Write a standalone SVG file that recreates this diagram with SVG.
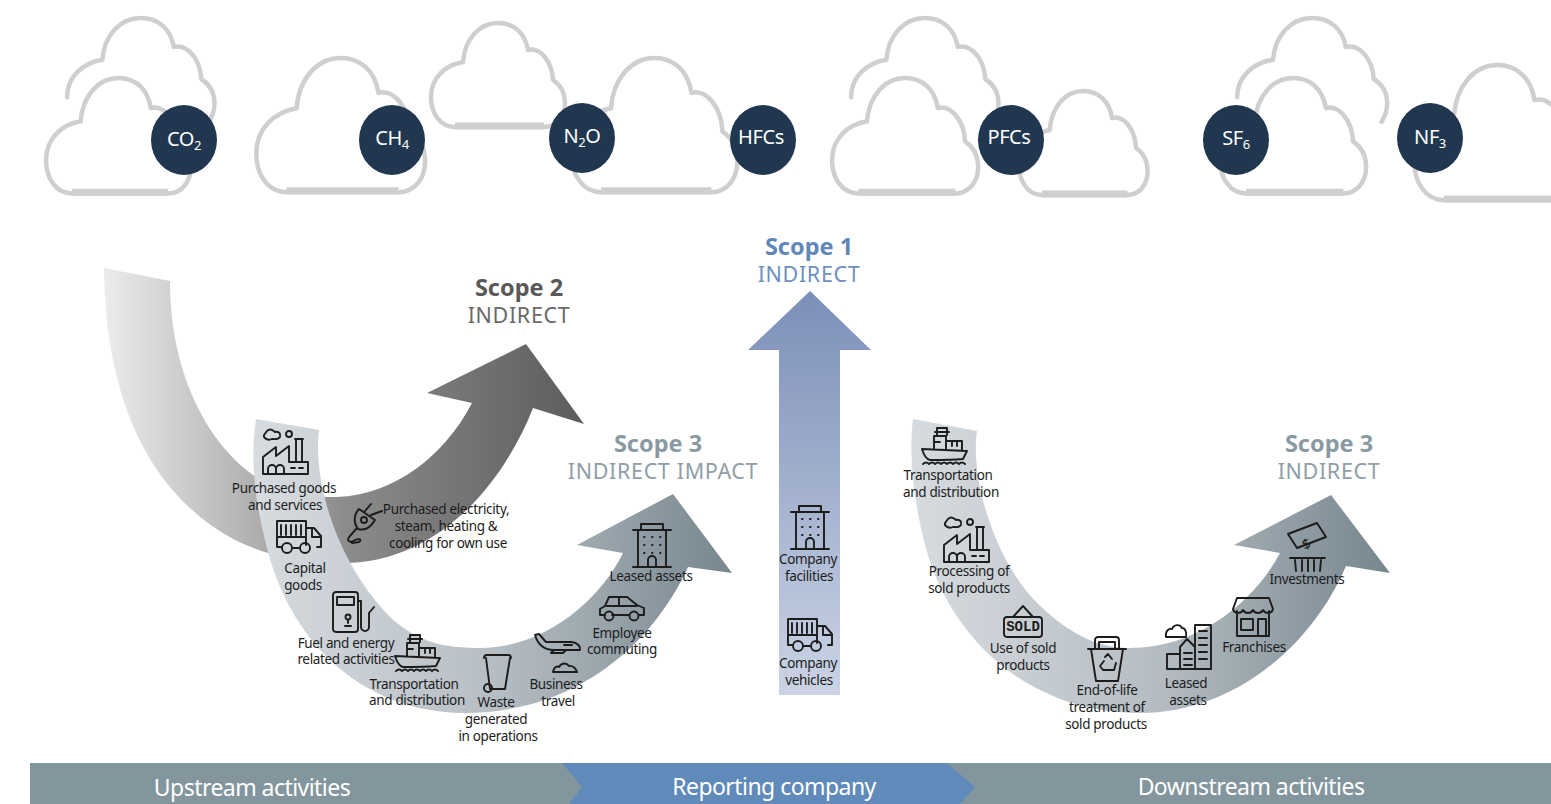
<svg xmlns="http://www.w3.org/2000/svg" xmlns:xlink="http://www.w3.org/1999/xlink" width="1551" height="804" viewBox="0 0 1551 804">
<style>
text{font-family:"Noto Sans","Open Sans","Liberation Sans",sans-serif}
.cl{fill:#fff;stroke:#cfcfcf;stroke-width:4.5;vector-effect:non-scaling-stroke;stroke-linejoin:round;stroke-linecap:round}
.base{fill:none;stroke:#cfcfcf;stroke-width:7;vector-effect:non-scaling-stroke}
.op{fill:none}
.gas{fill:#20374f}
.gt{fill:#fff;font-size:20px;text-anchor:middle;letter-spacing:-.4px}
.sub{font-size:13px}
.lb{fill:#1c1c1c;font-size:13.5px;text-anchor:middle;letter-spacing:-.35px}
.ic{fill:none;stroke:#1c1c1c;stroke-width:1.9;stroke-linejoin:round;stroke-linecap:round}
.h1{font-size:23.5px;font-weight:700;text-anchor:middle}
.h2{font-size:21.5px;letter-spacing:.65px;text-anchor:middle}
.bt{fill:#fff;font-size:23px;text-anchor:middle;letter-spacing:-.55px}
</style>
<defs>
<g id="cloud"><path class="cl" d="M25,104C10,104 1,90 1,74C1,55 15,42 33,39C35,15 50,0 68,0C84,0 95,10 98,27C110,24 122,38 123,57C132,63 135,72 135,80C135,94 126,104 114,104Z"/><path class="base" d="M25,103H114"/></g>
<path id="cloudopen" class="cl op" d="M1,74C1,55 15,42 33,39C35,15 50,0 68,0C84,0 95,10 98,27C110,24 122,38 123,57C132,63 135,72 135,80C135,86 133,92 130,97"/>
<linearGradient id="g2" gradientUnits="userSpaceOnUse" x1="104" y1="0" x2="584" y2="0"><stop offset="0" stop-color="#ececec"/><stop offset=".5" stop-color="#8c8c8c"/><stop offset="1" stop-color="#5c5c5c"/></linearGradient>
<linearGradient id="g3a" gradientUnits="userSpaceOnUse" x1="256" y1="0" x2="732" y2="0"><stop offset="0" stop-color="#d6dbdf"/><stop offset=".5" stop-color="#b6bec4"/><stop offset="1" stop-color="#77868e"/></linearGradient>
<linearGradient id="g3b" gradientUnits="userSpaceOnUse" x1="913" y1="0" x2="1390" y2="0"><stop offset="0" stop-color="#d6dbdf"/><stop offset=".5" stop-color="#b6bec4"/><stop offset="1" stop-color="#77868e"/></linearGradient>
<linearGradient id="g1" x1="0" y1="0" x2="0" y2="1"><stop offset="0" stop-color="#7b8fb8"/><stop offset="1" stop-color="#cbd4e5"/></linearGradient>
<g id="factory" class="ic"><path d="M5,3C8,0 11,2 13,4C17,3 19,6 18,9C16,12 12,11 10,11C6,13 1,10 2,7Z"/><circle cx="27" cy="6" r="3"/><path d="M34,34V11h6V34M33,11h8M1,46V29L14,19V28L27,18V34H46V46ZM6,46V41a4,4 0 0 1 8,0V46M14,46V41a4,4 0 0 1 8,0V46M29,40h4M37,40h4"/></g>
<g id="truck" class="ic"><path d="M1,27V1H30V25M1,17H30M5,15V5M10,15V5M15,15V5M20,15V5M25,15V5M30,8H38L45,16V27H41M17,28h6M1,27h4"/><circle cx="11" cy="28" r="5"/><circle cx="29" cy="28" r="5"/><path d="M36,9V17H44"/></g>
<g id="ship" class="ic"><path d="M0,22L45,24L41,32Q30,33 8,33Q3,32 0,22ZM15,8V1H25V8M13,5H27M12,22V9H24V22M12,15H18M24,14H40V23M30,14V19M35,14V19M1,37q3,-3 6,0q3,-3 6,0q3,-3 6,0q3,-3 6,0q3,-3 6,0q3,-3 6,0q3,-3 6,0"/></g>
<g id="building" class="ic"><path d="M6,7V43M34,7V43M1,7H39M9,7V1H31V7M1,44H39M16,44V37a4,4 0 0 1 8,0V44M12,14h.5M20,14h.5M28,14h.5M12,22h.5M20,22h.5M28,22h.5M12,30h.5M20,30h.5M28,30h.5"/></g>
</defs>

<g id="clouds">
<use href="#cloudopen" transform="translate(66,18) scale(1.1,1.07)"/>
<use href="#cloud" transform="translate(45,78) scale(1.08,1.11)"/>
<use href="#cloud" transform="translate(255,58) scale(1.26,1.29)"/>
<use href="#cloud" transform="translate(570,58) scale(1.24,1.29)"/>
<use href="#cloud" transform="translate(430,23)"/>
<use href="#cloudopen" transform="translate(850,18) scale(1.1,1.07)"/>
<use href="#cloud" transform="translate(831,78) scale(1.09,1.11)"/>
<use href="#cloud" transform="translate(1018,91) scale(.96,1)"/>
<use href="#cloudopen" transform="translate(1236,18) scale(1.12,1.07)"/>
<use href="#cloud" transform="translate(1219,78) scale(1.09,1.11)"/>
<use href="#cloud" transform="translate(1413,65) scale(1.24,1.3)"/>
</g>

<g id="gases">
<g id="gas-co2"><ellipse class="gas" cx="184" cy="140" rx="33" ry="35"/><text class="gt" x="184" y="146">CO<tspan class="sub" dy="4">2</tspan></text></g>
<g id="gas-ch4"><ellipse class="gas" cx="392" cy="140" rx="33" ry="35"/><text class="gt" x="392" y="145">CH<tspan class="sub" dy="4">4</tspan></text></g>
<g id="gas-n2o"><ellipse class="gas" cx="582" cy="138" rx="33" ry="35"/><text class="gt" x="582" y="143">N<tspan class="sub" dy="4">2</tspan><tspan dy="-4">O</tspan></text></g>
<g id="gas-hfcs"><ellipse class="gas" cx="763" cy="140" rx="33" ry="35"/><text class="gt" x="761" y="144">HFCs</text></g>
<g id="gas-pfcs"><ellipse class="gas" cx="1011" cy="140" rx="33" ry="35"/><text class="gt" x="1009" y="144">PFCs</text></g>
<g id="gas-sf6"><ellipse class="gas" cx="1236" cy="140" rx="33" ry="35"/><text class="gt" x="1236" y="145">SF<tspan class="sub" dy="4">6</tspan></text></g>
<g id="gas-nf3"><ellipse class="gas" cx="1430" cy="138" rx="33" ry="35"/><text class="gt" x="1430" y="144">NF<tspan class="sub" dy="4">3</tspan></text></g>
</g>

<g id="connectors">
<path id="arrow-scope2" fill="url(#g2)" d="M104,268L170,281C170,370 205,440 253,475C280,492 310,498 337,497C395,495 445,455 472,403L427,393L526,344L584,424L533,408C505,480 440,563 343,563C300,563 265,555 235,540C150,495 105,400 104,268Z"/>
<path id="arrow-scope3-up" fill="url(#g3a)" d="M256,419L319,430C313,480 335,560 390,617C420,645 450,648 480,648C545,648 600,600 623,553L577,545L673,494L732,573L688,567C650,650 570,713 465,713C370,713 290,650 265,540C255,500 250,460 256,419Z"/>
<path id="arrow-scope1" fill="url(#g1)" d="M779,695H840V350H871L810,291L748,350H779Z"/>
<path id="arrow-scope3-down" fill="url(#g3b)" d="M913,419L977,431C970,480 995,560 1037,603C1075,640 1105,648 1130,648C1200,648 1255,600 1280,553L1234,545L1331,495L1390,573L1346,566C1310,650 1230,713 1140,713C1030,713 950,640 925,545C915,505 908,460 913,419Z"/>
</g>

<g id="headings">
<g id="scope2"><text class="h1" x="519" y="296" fill="#595959">Scope 2</text><text class="h2" x="519" y="323" fill="#6a6a6a">INDIRECT</text></g>
<g id="scope1"><text class="h1" x="809" y="255" fill="#5f87b8">Scope 1</text><text class="h2" x="809" y="282" fill="#6f90bd">INDIRECT</text></g>
<g id="scope3-impact"><text class="h1" x="658" y="452" fill="#8a9aa3">Scope 3</text><text class="h2" x="663" y="479" fill="#8f9ea7">INDIRECT IMPACT</text></g>
<g id="scope3-indirect"><text class="h1" x="1329" y="452" fill="#8a9aa3">Scope 3</text><text class="h2" x="1329" y="479" fill="#8f9ea7">INDIRECT</text></g>
</g>

<g id="node-purchased-goods"><use href="#factory" x="262" y="428"/><text class="lb" x="284" y="493">Purchased goods</text><text class="lb" x="285" y="510">and services</text></g>
<g id="node-capital-goods"><use href="#truck" x="276" y="520"/><text class="lb" x="305" y="573">Capital</text><text class="lb" x="303" y="590">goods</text></g>
<g id="node-electricity"><g class="ic" transform="translate(347,503)"><circle cx="17" cy="17" r="3"/><path d="M12,6C7,11 6,20 11,26C18,28 24,24 28,17ZM18,8L24,1M24,12L35,8M10,25L3,33C-1,37 2,40 6,38C11,35 16,36 12,39L5,40"/></g><text class="lb" x="446" y="514">Purchased electricity,</text><text class="lb" x="446" y="531">steam, heating &amp;</text><text class="lb" x="448" y="548">cooling for own use</text></g>
<g id="node-fuel"><g class="ic" transform="translate(332,591)"><rect x="1" y="1" width="25" height="40" rx="3"/><rect x="5" y="6" width="17" height="8"/><circle cx="16" cy="26" r="2.5"/><path d="M16,29V32M13,35h6M26,10h3V36a4,4 0 0 0 8,0V22L42,16"/></g><text class="lb" x="346" y="648">Fuel and energy</text><text class="lb" x="346" y="664">related activities</text></g>
<g id="node-transport-up"><use href="#ship" x="395" y="634"/><text class="lb" x="414" y="689">Transportation</text><text class="lb" x="417" y="705">and distribution</text></g>
<g id="node-waste"><g class="ic" transform="translate(483,654)"><path d="M1,4Q1,1 4,1H25Q28,1 28,4M3,4L7,35H22L27,4"/><circle cx="5" cy="34" r="4"/></g><text class="lb" x="496" y="707">Waste</text><text class="lb" x="496" y="724">generated</text><text class="lb" x="498" y="741">in operations</text></g>
<g id="node-business-travel"><g class="ic" transform="translate(534,633)"><path d="M1,2L5,1L12,9H38C44,10 47,14 46,17H20C10,17 4,12 1,2ZM20,17H32L29,20H17ZM30,12h8"/><path d="M19,39C20,33 24,33 25,34C28,29 33,30 35,33C39,32 42,36 43,39Z"/></g><text class="lb" x="556" y="689">Business</text><text class="lb" x="558" y="706">travel</text></g>
<g id="node-employee-commuting"><g class="ic" transform="translate(599,595)"><path d="M6,20H1V14L6,11L10,2H28L38,10L45,13V20H40M13,20H30M8,11H38M20,2V11"/><circle cx="10" cy="21" r="4.5"/><circle cx="35" cy="21" r="4.5"/></g><text class="lb" x="622" y="638">Employee</text><text class="lb" x="622" y="654">commuting</text></g>
<g id="node-leased-assets-up"><use href="#building" x="632" y="523"/><text class="lb" x="651" y="581">Leased assets</text></g>
<g id="node-company-facilities"><use href="#building" x="790" y="505"/><text class="lb" x="808" y="564">Company</text><text class="lb" x="809" y="581">facilities</text></g>
<g id="node-company-vehicles"><use href="#truck" x="787" y="618"/><text class="lb" x="808" y="668">Company</text><text class="lb" x="809" y="685">vehicles</text></g>
<g id="node-transport-down"><use href="#ship" x="922" y="427"/><text class="lb" x="948" y="480">Transportation</text><text class="lb" x="951" y="497">and distribution</text></g>
<g id="node-processing"><use href="#factory" x="943" y="516"/><text class="lb" x="969" y="576">Processing of</text><text class="lb" x="969" y="593">sold products</text></g>
<g id="node-use-sold"><g class="ic" transform="translate(1003,604)"><rect x="1" y="13" width="38" height="20" rx="3"/><path d="M10,13L20,2L30,13"/></g><text x="1023" y="631" text-anchor="middle" font-size="14" font-weight="700" fill="#1c1c1c" style="font-family:'Liberation Mono',monospace">SOLD</text><text class="lb" x="1023" y="653">Use of sold</text><text class="lb" x="1023" y="670">products</text></g>
<g id="node-end-of-life"><g class="ic" transform="translate(1087,636)"><path d="M1,13H39M4,13L9,45H31L36,13M8,13V4a3,3 0 0 1 3,-3H29a3,3 0 0 1 3,3V13M12,13V6H28V13M18,21l3,-3l4,5M17,25l-4,5l3,4h5M29,27l-2,7h-5"/></g><text class="lb" x="1107" y="695">End-of-life</text><text class="lb" x="1107" y="712">treatment of</text><text class="lb" x="1106" y="729">sold products</text></g>
<g id="node-leased-assets-down"><g class="ic" transform="translate(1165,623)"><path d="M30,46V2H46V46ZM2,46V31H15V46ZM15,46V24L22,16L30,24M2,46H46M19,30h8M19,36h8M19,42h8M34,8h8M34,15h8M34,22h8M34,29h8M34,36h8M1,14C0,7 5,5 7,6C9,1 15,1 17,5C20,5 22,9 21,14Z"/></g><text class="lb" x="1186" y="688">Leased</text><text class="lb" x="1188" y="705">assets</text></g>
<g id="node-franchises"><g class="ic" transform="translate(1232,597)"><path d="M5,14V39H37V14M5,1H37L41,12C40,17 33,17 31,13C29,17 23,17 21,13C19,17 13,17 11,13C9,17 2,17 1,12ZM9,22H21V33H9ZM26,39V22H34V39"/></g><text class="lb" x="1254" y="652">Franchises</text></g>
<g id="node-investments"><g class="ic" transform="translate(1287,523)"><path d="M1,11L30,0L39,14L10,25ZM3,35H38M8,37L9,48M15,37V48M21,37V48M27,37V48M34,37L33,48"/></g><text x="1306" y="549" text-anchor="middle" font-size="14" fill="#1c1c1c" transform="rotate(-20 1306 543)">$</text><text class="lb" x="1307" y="584">Investments</text></g>

<g id="activity-bar">
<rect x="30" y="763" width="1521" height="41" fill="#83969e"/>
<polygon points="562,763 947,763 975,787 960,804 569,804 582,787" fill="#5f8ab9"/>
<text class="bt" x="252" y="796">Upstream activities</text>
<text class="bt" x="774" y="795">Reporting company</text>
<text class="bt" x="1251" y="795">Downstream activities</text>
</g>
</svg>
